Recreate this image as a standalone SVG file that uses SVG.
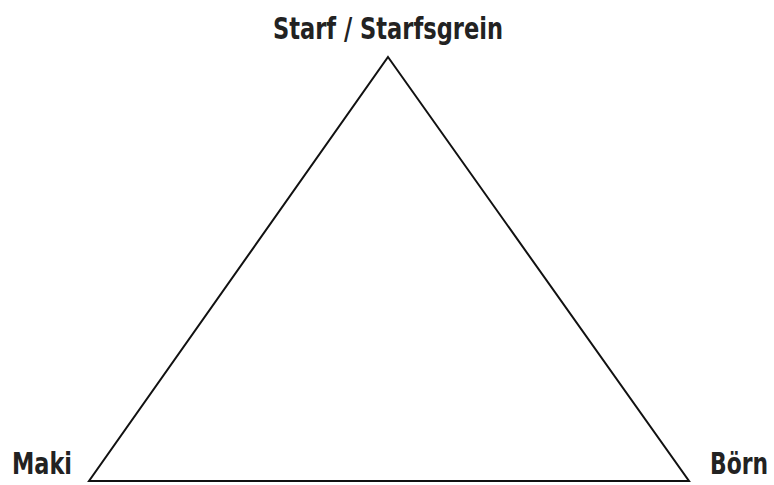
<svg xmlns="http://www.w3.org/2000/svg" width="774" height="485" viewBox="0 0 774 485">
<style>
.lbl{font-family:"DejaVu Sans Condensed","DejaVu Sans","Liberation Sans",sans-serif;font-weight:bold;font-size:30px;fill:#222}
.edge{fill:none;stroke:#111;stroke-width:2;stroke-linejoin:miter}
</style>
<rect width="774" height="485" fill="#fff"/>
<g id="connectors">
<polygon class="edge" points="388,57 689,481 89,481"/>
</g>
<g id="node-top"><text class="lbl" x="273" y="39" textLength="230" lengthAdjust="spacingAndGlyphs">Starf / Starfsgrein</text></g>
<g id="node-left"><text class="lbl" x="12" y="474" textLength="60" lengthAdjust="spacingAndGlyphs">Maki</text></g>
<g id="node-right"><text class="lbl" x="710" y="474" textLength="58" lengthAdjust="spacingAndGlyphs">Börn</text></g>
</svg>
